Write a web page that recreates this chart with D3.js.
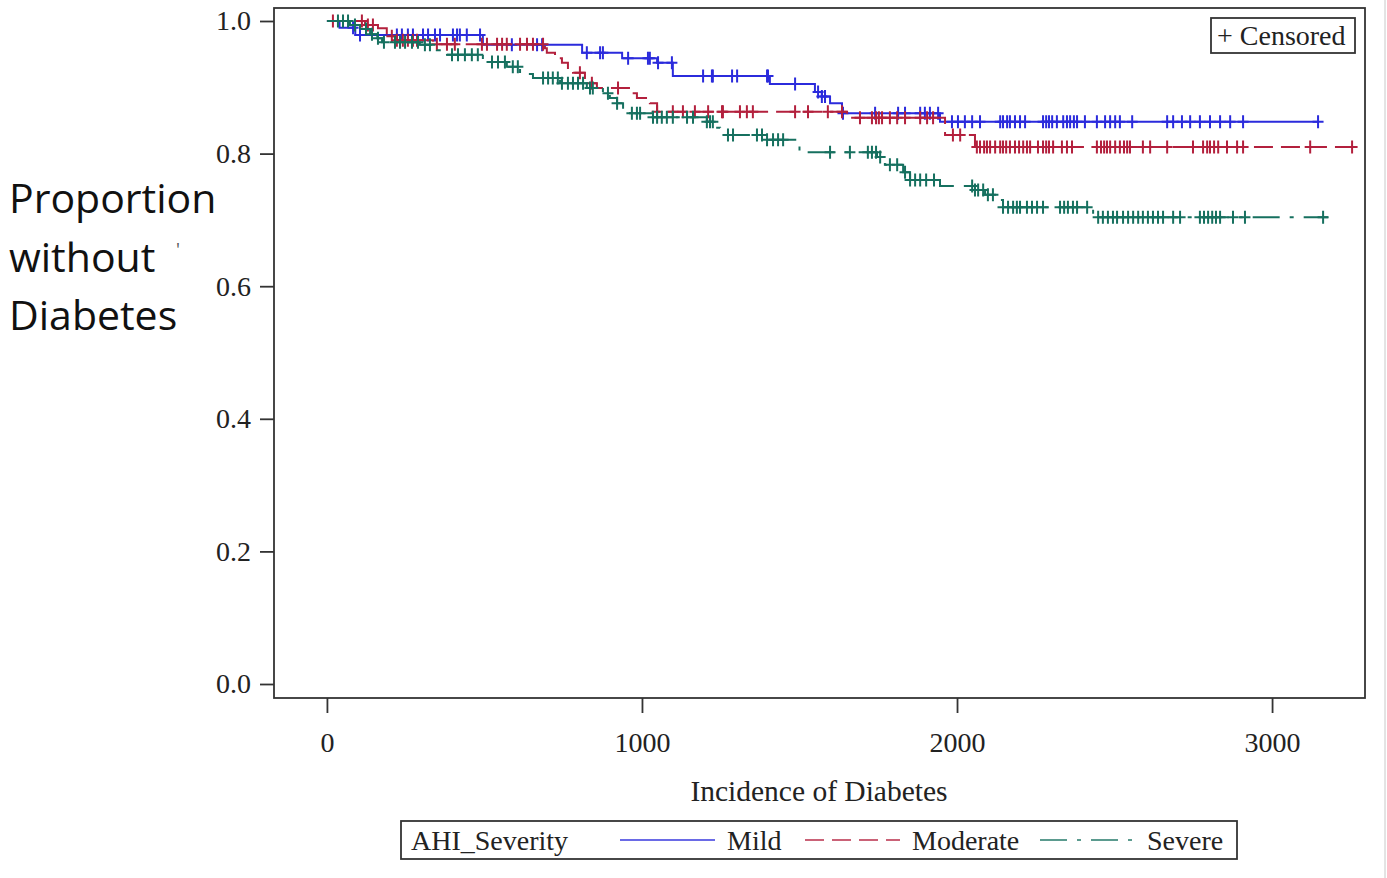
<!DOCTYPE html>
<html>
<head>
<meta charset="utf-8">
<script src="https://cdn.jsdelivr.net/npm/d3@7"></script>
<style>
  body { margin: 0; background: #fff; }
  svg { display: block; }
</style>
</head>
<body>
<svg id="chart" width="1387" height="878"></svg>
<script>
// Kaplan-Meier steps (time, proportion without diabetes)
const mildTimes = [0, 40, 90, 495, 810, 937, 1048, 1098, 1406, 1549, 1571, 1597, 1635, 1946];
const mildSurv = [1.0, 0.99, 0.979, 0.964, 0.952, 0.944, 0.937, 0.917, 0.905, 0.893, 0.886, 0.876, 0.861, 0.848];
const mildEnd = 3146;
const mildCensored = [83, 105, 222, 238, 257, 273, 305, 321, 343, 359, 400, 413, 422, 444, 486, 587, 667, 683,
  825, 867, 876, 956, 1019, 1025, 1051, 1095, 1194, 1222, 1225, 1286, 1302, 1397, 1400, 1486, 1559, 1571, 1581,
  1638, 1740, 1813, 1835, 1883, 1898, 1914, 1940, 1984, 2003, 2025, 2048, 2073, 2137, 2146, 2159, 2168, 2184,
  2200, 2216, 2273, 2283, 2292, 2302, 2317, 2337, 2349, 2359, 2371, 2381, 2406, 2444, 2470, 2486, 2502, 2517,
  2556, 2667, 2686, 2714, 2740, 2771, 2803, 2835, 2867, 2908, 3146];

const moderateTimes = [0, 121, 162, 190, 216, 337, 692, 698, 724, 746, 765, 781, 819, 841, 857, 962, 984, 1025, 1048, 1651, 1962, 2057];
const moderateSurv = [1.0, 0.994, 0.989, 0.977, 0.971, 0.965, 0.959, 0.952, 0.944, 0.937, 0.926, 0.922, 0.914, 0.906, 0.899, 0.891, 0.884, 0.876, 0.863, 0.854, 0.828, 0.81];
const moderateEnd = 3262;
const moderateCensored = [19, 111, 130, 146, 206, 222, 241, 257, 273, 286, 349, 381, 406, 492, 508, 540, 556, 571,
  613, 635, 654, 686, 803, 841, 924, 1048, 1098, 1130, 1168, 1210, 1254, 1257, 1311, 1333, 1352, 1486, 1527, 1590,
  1635, 1692, 1730, 1743, 1752, 1762, 1787, 1810, 1835, 1883, 1905, 1924, 1987, 2010, 2063, 2073, 2086, 2095,
  2105, 2121, 2137, 2146, 2156, 2168, 2184, 2197, 2210, 2222, 2232, 2257, 2273, 2283, 2292, 2305, 2333, 2349,
  2365, 2444, 2457, 2467, 2476, 2486, 2502, 2517, 2530, 2540, 2549, 2590, 2613, 2667, 2749, 2781, 2794, 2803,
  2816, 2829, 2857, 2889, 2908, 3121, 3254];

const severeTimes = [0, 73, 105, 137, 160, 175, 295, 349, 381, 495, 571, 613, 654, 740, 825, 876, 898, 921, 940, 962,
  1035, 1206, 1232, 1248, 1397, 1500, 1746, 1771, 1829, 1851, 1946, 2057, 2089, 2121, 2146, 2432];
const severeSurv = [1.0, 0.994, 0.988, 0.98, 0.974, 0.968, 0.964, 0.956, 0.949, 0.938, 0.931, 0.92, 0.914, 0.906, 0.899,
  0.891, 0.884, 0.876, 0.869, 0.861, 0.855, 0.848, 0.839, 0.828, 0.821, 0.802, 0.795, 0.783, 0.772, 0.76, 0.751,
  0.745, 0.738, 0.73, 0.719, 0.704];
const severeEnd = 3178;
const severeCensored = [35, 51, 67, 89, 124, 143, 162, 181, 216, 232, 248, 270, 289, 311, 327, 397, 416, 438, 460,
  479, 524, 543, 565, 590, 606, 686, 702, 717, 733, 746, 765, 781, 797, 813, 835, 844, 892, 921, 968, 984, 994,
  1035, 1048, 1063, 1079, 1098, 1143, 1162, 1206, 1216, 1225, 1273, 1289, 1365, 1381, 1397, 1416, 1432, 1448,
  1597, 1660, 1717, 1730, 1743, 1756, 1787, 1810, 1835, 1851, 1867, 1883, 1902, 1927, 2048, 2057, 2067, 2083,
  2098, 2114, 2146, 2162, 2178, 2190, 2200, 2222, 2238, 2254, 2273, 2327, 2340, 2352, 2368, 2381, 2413, 2448,
  2463, 2479, 2495, 2508, 2527, 2543, 2559, 2575, 2590, 2606, 2622, 2638, 2654, 2686, 2708, 2771, 2784, 2797,
  2810, 2822, 2835, 2876, 2914, 3162];

const groupNames = ['Mild', 'Moderate', 'Severe'];
const xTicks = [0, 1000, 2000, 3000];
const yTicks = [0, 0.2, 0.4, 0.6, 0.8, 1.0];

const series = [
  { name: 'Mild', times: mildTimes, surv: mildSurv, end: mildEnd, censored: mildCensored, color: '#2b2bdc', dash: null },
  { name: 'Moderate', times: moderateTimes, surv: moderateSurv, end: moderateEnd, censored: moderateCensored, color: '#b3203d', dash: '19,8' },
  { name: 'Severe', times: severeTimes, surv: severeSurv, end: severeEnd, censored: severeCensored, color: '#16705f', dash: '27,10,4,10' }
];

const svg = d3.select('#chart');
const serif = '"Liberation Serif", "Times New Roman", serif';

// frame of the plot area
const frame = { left: 274, right: 1365, top: 8, bottom: 698 };

const x = d3.scaleLinear().domain([-168, 3295]).range([frame.left, frame.right]);
const y = d3.scaleLinear().domain([0, 1]).range([684, 21]);

svg.append('line')
  .attr('x1', 1385).attr('x2', 1385).attr('y1', 0).attr('y2', 878)
  .attr('stroke', '#c8c8c8').attr('stroke-width', 1);

svg.append('rect')
  .attr('x', frame.left).attr('y', frame.top)
  .attr('width', frame.right - frame.left).attr('height', frame.bottom - frame.top)
  .attr('fill', 'none').attr('stroke', '#333').attr('stroke-width', 1.8);

// axes
const xAxis = d3.axisBottom(x).tickValues(xTicks).tickFormat(d3.format('d')).tickSize(15).tickPadding(10);
const yAxis = d3.axisLeft(y).tickValues(yTicks).tickFormat(d3.format('.1f')).tickSize(14).tickPadding(9);

const gx = svg.append('g').attr('transform', `translate(0,${frame.bottom})`).call(xAxis);
const gy = svg.append('g').attr('transform', `translate(${frame.left},0)`).call(yAxis);

[gx, gy].forEach((g) => {
  g.select('.domain').remove();
  g.selectAll('.tick line').attr('stroke', '#333').attr('stroke-width', 1.8);
  g.selectAll('.tick text').attr('font-family', serif).attr('font-size', 28).attr('fill', '#222');
});
gx.selectAll('.tick text').attr('dy', '1.05em');

svg.append('text')
  .attr('x', 819)
  .attr('y', 801)
  .attr('text-anchor', 'middle')
  .attr('font-family', serif).attr('font-size', 29.5).attr('fill', '#222')
  .text('Incidence of Diabetes');

// y axis title, stacked in three lines
const yTitle = svg.append('text')
  .attr('font-family', '"Open Sans", "Noto Sans", sans-serif')
  .attr('font-size', 41).attr('fill', '#111');
['Proportion', 'without', 'Diabetes'].forEach((s, i) => {
  yTitle.append('tspan').attr('x', 9).attr('y', 213 + i * 58.5).text(s);
});
svg.append('text')
  .attr('x', 176).attr('y', 256)
  .attr('font-family', '"Open Sans", sans-serif').attr('font-size', 18).attr('fill', '#555')
  .text("'");

// curves
const line = d3.line()
  .x((d) => x(d[0]))
  .y((d) => y(d[1]))
  .curve(d3.curveStepAfter);

const plot = svg.append('g');

series.forEach((s) => {
  const pts = s.times.map((t, i) => [t, s.surv[i]]);
  pts.push([s.end, s.surv[s.surv.length - 1]]);

  plot.append('path')
    .datum(pts)
    .attr('fill', 'none')
    .attr('stroke', s.color)
    .attr('stroke-width', 2)
    .attr('stroke-dasharray', s.dash)
    .attr('d', line);

  const survAt = (t) => s.surv[Math.max(0, d3.bisectRight(s.times, t) - 1)];

  plot.selectAll(null)
    .data(s.censored)
    .enter()
    .append('path')
    .attr('transform', (t) => `translate(${x(t)},${y(survAt(t))})`)
    .attr('d', 'M-5.5,0H5.5M0,-6.5V6.5')
    .attr('stroke', s.color)
    .attr('stroke-width', 2)
    .attr('fill', 'none');
});

// censored legend
svg.append('rect')
  .attr('x', 1211).attr('y', 18).attr('width', 144).attr('height', 35)
  .attr('fill', '#fff').attr('stroke', '#333').attr('stroke-width', 1.8);
svg.append('text')
  .attr('x', 1217).attr('y', 45)
  .attr('font-family', serif).attr('font-size', 28).attr('fill', '#222')
  .text('+ Censored');

// group legend
const legend = svg.append('g');
legend.append('rect')
  .attr('x', 401).attr('y', 821).attr('width', 836).attr('height', 38)
  .attr('fill', '#fff').attr('stroke', '#333').attr('stroke-width', 1.8);
legend.append('text')
  .attr('x', 411).attr('y', 850)
  .attr('font-family', serif).attr('font-size', 28).attr('fill', '#222')
  .text('AHI_Severity');

const legendX = [620, 805, 1040];
series.forEach((s, i) => {
  legend.append('line')
    .attr('x1', legendX[i]).attr('x2', legendX[i] + 95)
    .attr('y1', 840).attr('y2', 840)
    .attr('stroke', s.color).attr('stroke-opacity', 0.7)
    .attr('stroke-width', 2)
    .attr('stroke-dasharray', s.dash);
  legend.append('text')
    .attr('x', legendX[i] + 107).attr('y', 850)
    .attr('font-family', serif).attr('font-size', 28).attr('fill', '#222')
    .text(groupNames[i]);
});
</script>
</body>
</html>
